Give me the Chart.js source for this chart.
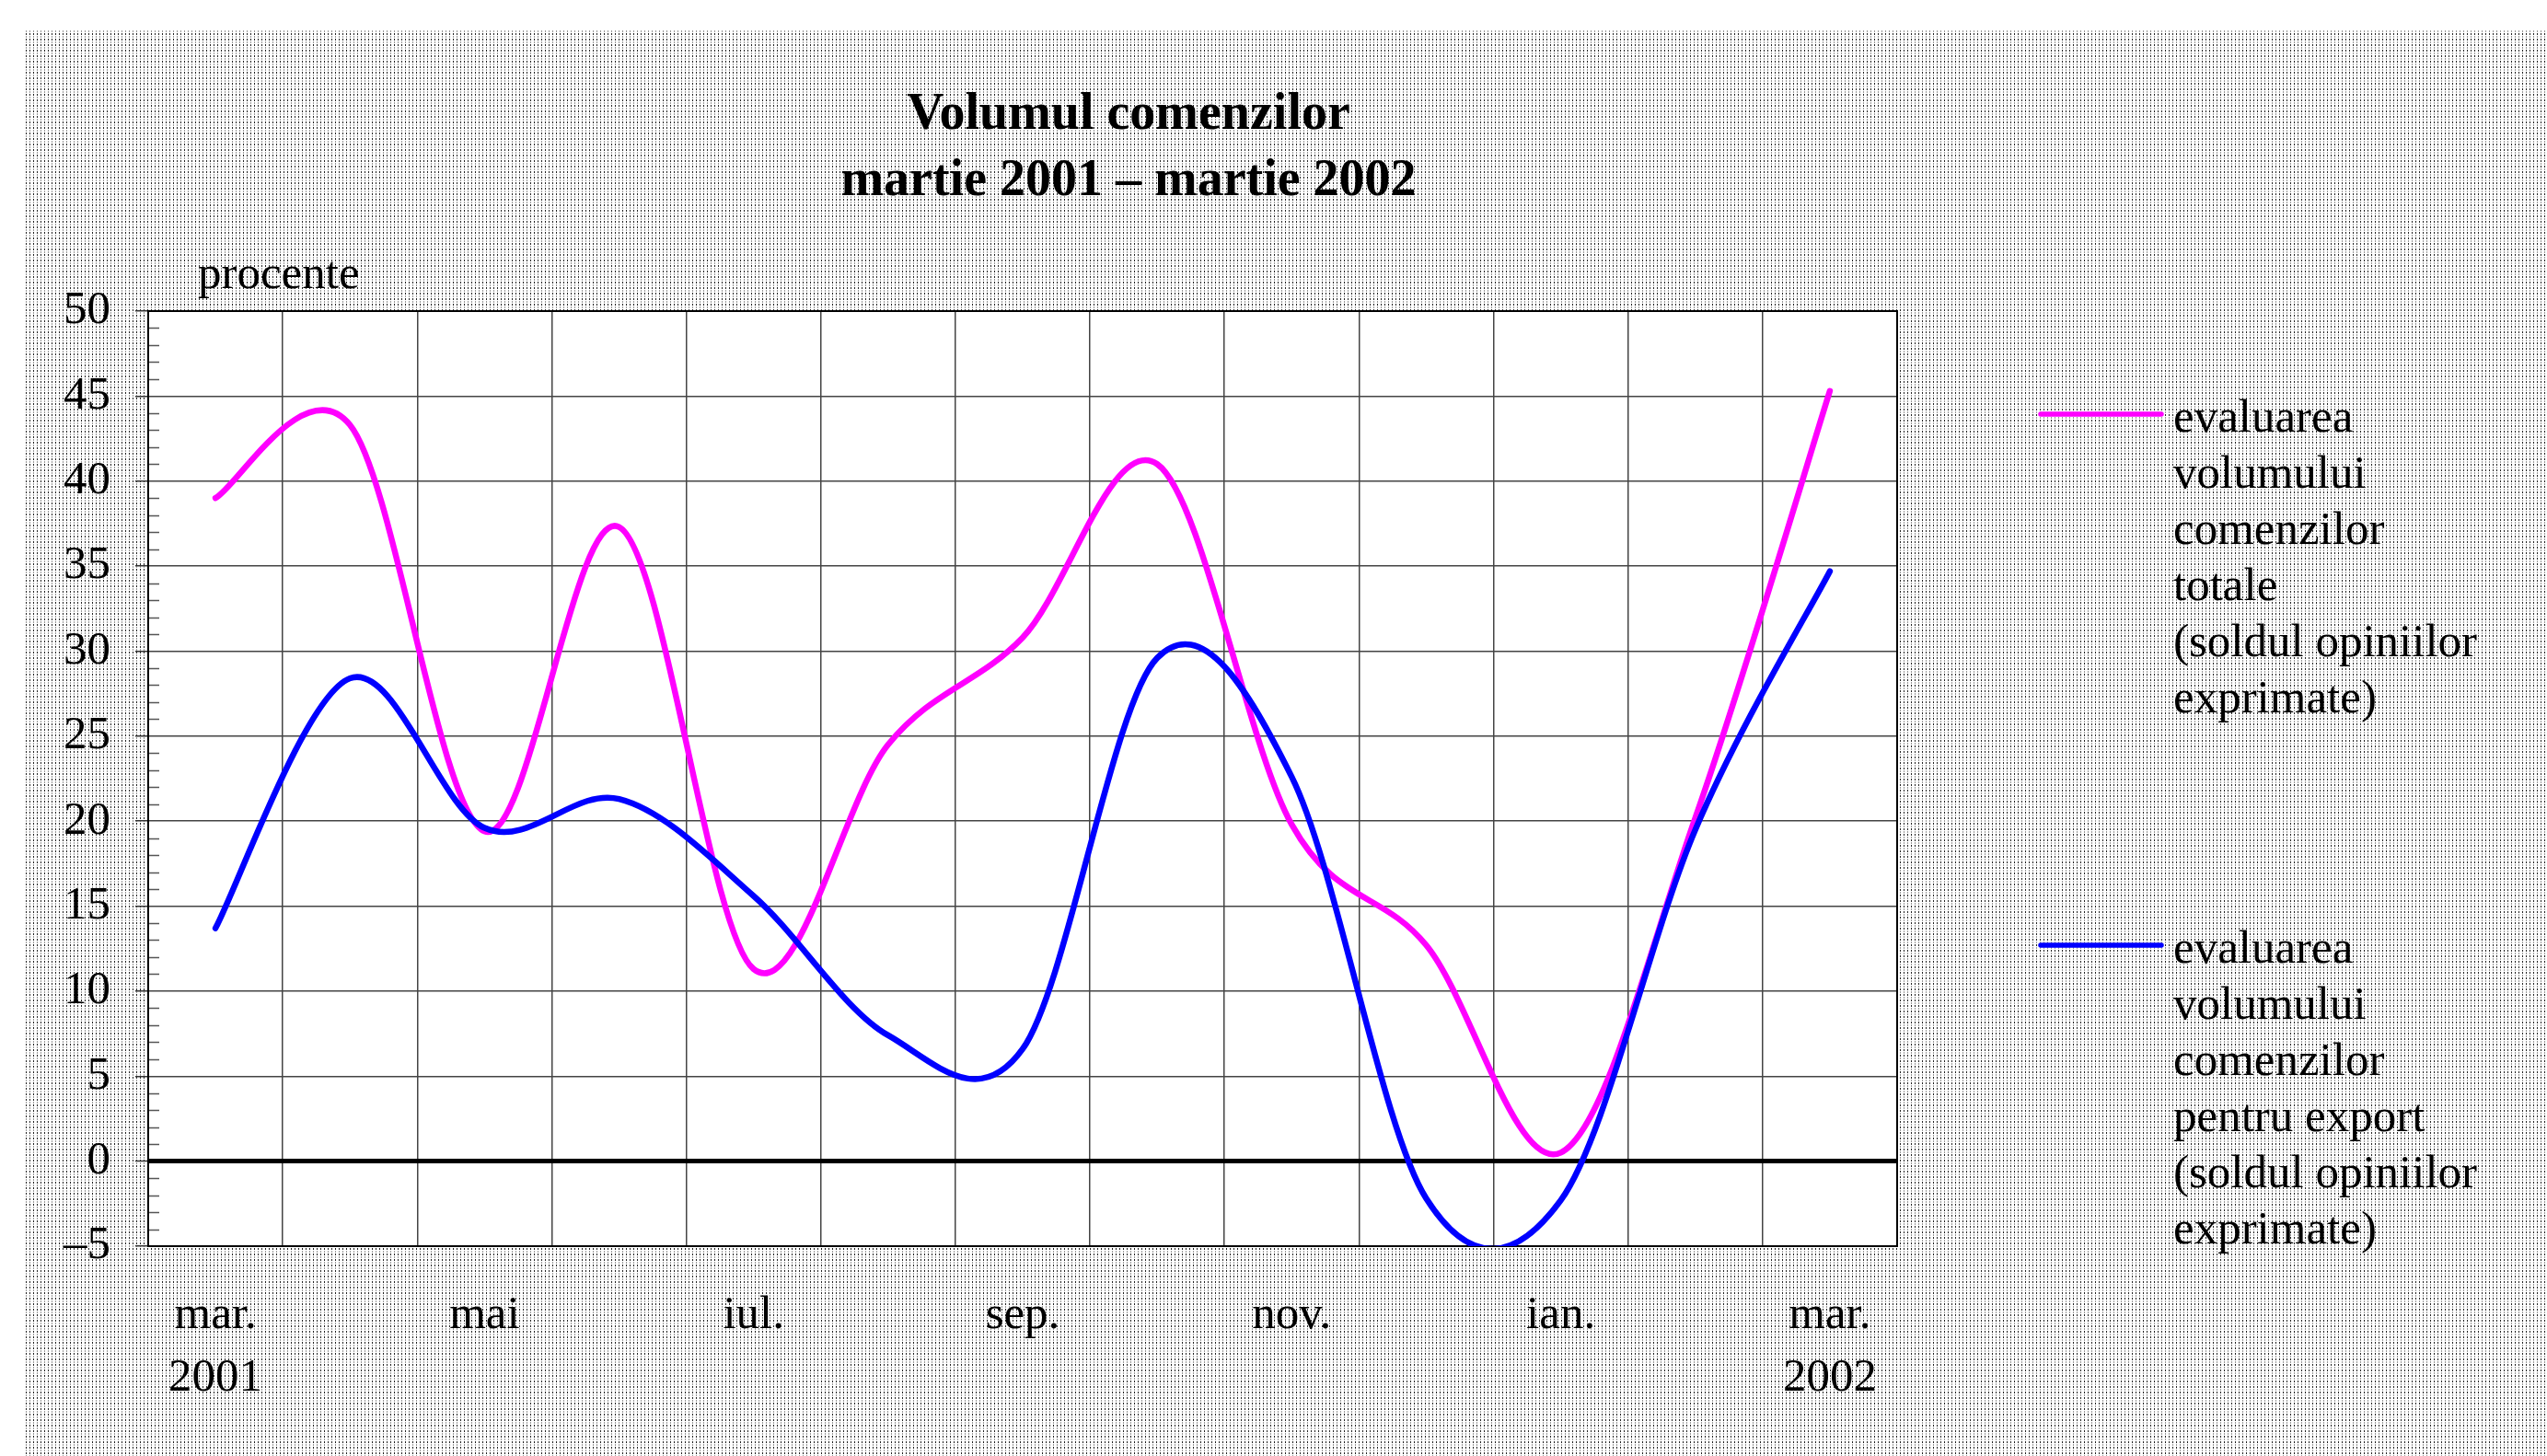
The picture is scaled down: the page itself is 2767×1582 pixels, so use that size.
<!DOCTYPE html>
<html>
<head>
<meta charset="utf-8">
<title>Volumul comenzilor</title>
<script src="https://cdn.jsdelivr.net/npm/chart.js@4.4.0/dist/chart.umd.min.js"></script>
<style>
  html, body { margin: 0; padding: 0; background: #fff; }
  canvas { display: block; }
</style>
</head>
<body>
<canvas id="grafico" width="2767" height="1582"></canvas>
<script>
// datos del grafico
var categorii = ['mar. 2001', 'apr.', 'mai', 'iun.', 'iul.', 'aug.', 'sep.', 'oct.', 'nov.', 'dec.', 'ian.', 'feb.', 'mar. 2002'];
var etichete_x = [['mar.', '2001'], '', 'mai', '', 'iul.', '', 'sep.', '', 'nov.', '', 'ian.', '', ['mar.', '2002']];
var comenzi_totale = [39.0, 43.3, 19.4, 37.3, 11.3, 24.5, 30.8, 41.0, 19.8, 12.7, 0.5, 20.2, 45.3];
var comenzi_export = [13.7, 28.4, 19.6, 21.3, 15.6, 7.4, 6.6, 29.6, 22.6, -2.2, -2.3, 19.5, 34.7];
var legenda_totale = ['evaluarea', 'volumului', 'comenzilor', 'totale', '(soldul opiniilor', 'exprimate)'];
var legenda_export = ['evaluarea', 'volumului', 'comenzilor', 'pentru export', '(soldul opiniilor', 'exprimate)'];
var titlu = ['Volumul comenzilor', 'martie 2001 \u2013 martie 2002'];
var unitate = 'procente';

var fuente = '"Liberation Serif", "Times New Roman", serif';
var chart_line;

function crear_patron(ctx) {
  var c = document.createElement('canvas');
  c.width = 4; c.height = 6;
  var p = c.getContext('2d');
  p.fillStyle = '#fff';
  p.fillRect(0, 0, 4, 6);
  p.fillStyle = '#222';
  p.fillRect(0, 0, 1, 2);
  p.fillStyle = '#999';
  p.fillRect(0, 3, 1, 2);
  return ctx.createPattern(c, 'repeat');
}

// suavizado tipo Excel: puntos de control a 1/6 de (siguiente - anterior)
var suavizado = {
  id: 'suavizado',
  beforeDatasetDraw: function (chart, args) {
    var meta = args.meta;
    var pts = meta.data;
    var n = pts.length;
    for (var i = 0; i < n; i++) {
      var prev = pts[Math.max(i - 1, 0)];
      var next = pts[Math.min(i + 1, n - 1)];
      var dx = (next.x - prev.x) / 6;
      var dy = (next.y - prev.y) / 6;
      pts[i].cp1x = pts[i].x - dx;
      pts[i].cp1y = pts[i].y - dy;
      pts[i].cp2x = pts[i].x + dx;
      pts[i].cp2y = pts[i].y + dy;
    }
    meta.dataset._pointsUpdated = true;
    meta.dataset._path = undefined;
  }
};

// fondo punteado y area blanca
var fondo = {
  id: 'fondo',
  beforeDraw: function (chart) {
    var ctx = chart.ctx, a = chart.chartArea;
    ctx.save();
    ctx.fillStyle = '#fff';
    ctx.fillRect(0, 0, chart.width, chart.height);
    ctx.fillStyle = crear_patron(ctx);
    ctx.fillRect(28, 32, chart.width - 28, chart.height - 32);
    ctx.fillStyle = '#fff';
    ctx.fillRect(a.left, a.top, a.right - a.left, a.bottom - a.top);
    ctx.restore();
  },
  beforeDatasetsDraw: function (chart) {
    var ctx = chart.ctx, a = chart.chartArea, y = chart.scales.y;
    ctx.save();
    // marcas menores del eje y
    ctx.strokeStyle = '#555';
    ctx.lineWidth = 1.5;
    for (var v = y.min; v <= y.max; v++) {
      if (v % 5 === 0) continue;
      var py = Math.round(y.getPixelForValue(v)) + 0.5;
      ctx.beginPath();
      ctx.moveTo(a.left, py);
      ctx.lineTo(a.left + 12, py);
      ctx.stroke();
    }
    ctx.strokeStyle = '#000';
    ctx.lineWidth = 2;
    ctx.strokeRect(a.left, a.top, a.right - a.left, a.bottom - a.top);
    ctx.restore();
  },
  afterDraw: function (chart) {
    var ctx = chart.ctx;
    ctx.save();
    ctx.fillStyle = '#000';
    ctx.textBaseline = 'alphabetic';

    // titulo
    ctx.textAlign = 'center';
    ctx.font = 'bold 56px ' + fuente;
    ctx.fillText(titlu[0], 1226, 140);
    ctx.fillText(titlu[1], 1226, 212);

    ctx.textAlign = 'left';
    ctx.font = '51px ' + fuente;
    ctx.fillText(unitate, 215, 313);

    // leyenda
    var entradas = [
      { color: chart.data.datasets[0].borderColor, lineas: legenda_totale, y: 450 },
      { color: chart.data.datasets[1].borderColor, lineas: legenda_export, y: 1027 }
    ];
    entradas.forEach(function (e) {
      ctx.strokeStyle = e.color;
      ctx.lineWidth = 5.5;
      ctx.lineCap = 'round';
      ctx.beginPath();
      ctx.moveTo(2217, e.y);
      ctx.lineTo(2348, e.y);
      ctx.stroke();
      e.lineas.forEach(function (t, i) {
        ctx.fillText(t, 2361, e.y + 19 + i * 61);
      });
    });
    ctx.restore();
  }
};

function init() {
  var ctx = document.getElementById('grafico');

  chart_line = new Chart(ctx, {
    type: 'line',
    data: {
      labels: categorii,
      datasets: [
        {
          label: legenda_totale.join(' '),
          data: comenzi_totale,
          borderColor: '#ff00ff',
          borderWidth: 6.5,
          pointRadius: 0,
          tension: 0.33,
          clip: 0,
          order: 1
        },
        {
          label: legenda_export.join(' '),
          data: comenzi_export,
          borderColor: '#0000ff',
          borderWidth: 6.5,
          pointRadius: 0,
          tension: 0.33,
          clip: 0,
          order: 0
        }
      ]
    },
    options: {
      responsive: false,
      animation: false,
      layout: { padding: { top: 338, right: 706, left: 0, bottom: 0 } },
      elements: { line: { capBezierPoints: false, borderCapStyle: 'round', borderJoinStyle: 'round' } },
      plugins: {
        legend: { display: false },
        title: { display: false },
        tooltip: { enabled: false }
      },
      scales: {
        x: {
          offset: true,
          grid: { offset: true, color: '#444', lineWidth: 1.5, drawTicks: false },
          border: { display: true, color: '#000', width: 2 },
          ticks: {
            autoSkip: false, maxRotation: 0, minRotation: 0, padding: 42, color: '#000',
            font: { family: fuente, size: 51, lineHeight: 1.33 },
            callback: function (v, i) { return etichete_x[i]; }
          },
          afterFit: function (s) { s.height = 228; }
        },
        y: {
          min: -5,
          max: 50,
          ticks: {
            stepSize: 5, padding: 27, color: '#000',
            font: { family: fuente, size: 51 },
            callback: function (v) { return v < 0 ? '\u2013' + Math.abs(v) : v; }
          },
          grid: {
            color: function (c) { return c.tick && c.tick.value === 0 ? '#000' : '#444'; },
            lineWidth: function (c) { return c.tick && c.tick.value === 0 ? 5 : 1.5; },
            tickLength: 14,
            tickColor: '#333',
            tickWidth: 1.5
          },
          border: { color: '#000', width: 2 },
          afterFit: function (s) { s.width = 161; }
        }
      }
    },
    plugins: [fondo, suavizado]
  });
}

init();
</script>
</body>
</html>
